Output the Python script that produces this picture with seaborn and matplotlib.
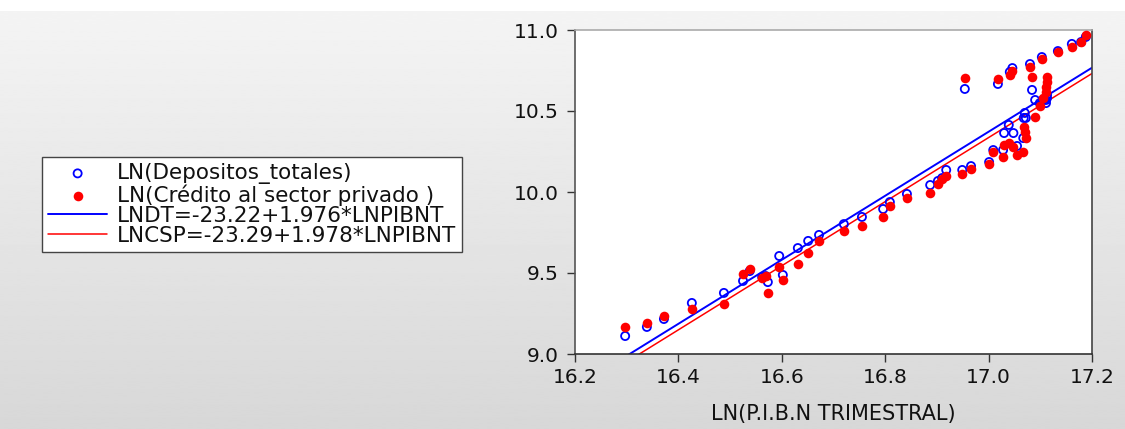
import numpy as np
import pandas as pd
import matplotlib
matplotlib.use("Agg")
import matplotlib.pyplot as plt
import seaborn as sns

# ---------------- data ----------------
pib = [16.297, 16.339, 16.372, 16.426, 16.488, 16.525, 16.538, 16.562, 16.569, 16.573,
       16.595, 16.602, 16.631, 16.651, 16.672, 16.720, 16.755, 16.796, 16.809, 16.842,
       16.887, 16.902, 16.910, 16.918, 16.949, 16.954, 16.966, 17.001, 17.009, 17.018,
       17.028, 17.030, 17.039, 17.041, 17.046, 17.048, 17.055, 17.067, 17.068, 17.070,
       17.072, 17.080, 17.084, 17.090, 17.099, 17.103, 17.105, 17.111, 17.111, 17.113,
       17.113, 17.134, 17.161, 17.179, 17.188]
depositos = [9.111, 9.167, 9.216, 9.315, 9.377, 9.451, 9.512, 9.475, 9.481, 9.444,
             9.605, 9.488, 9.654, 9.698, 9.735, 9.802, 9.846, 9.895, 9.938, 9.988,
             10.043, 10.068, 10.086, 10.136, 10.136, 10.636, 10.160, 10.185, 10.259, 10.667,
             10.259, 10.364, 10.414, 10.741, 10.765, 10.364, 10.284, 10.333, 10.457, 10.488,
             10.457, 10.790, 10.630, 10.568, 10.549, 10.833, 10.568, 10.568, 10.549, 10.580,
             10.599, 10.870, 10.914, 10.926, 10.957]
credito = [9.167, 9.191, 9.235, 9.278, 9.309, 9.494, 9.525, 9.469, 9.481, 9.377,
           9.537, 9.457, 9.556, 9.623, 9.698, 9.759, 9.790, 9.846, 9.914, 9.963,
           9.994, 10.049, 10.080, 10.099, 10.111, 10.704, 10.142, 10.173, 10.247, 10.698,
           10.216, 10.290, 10.302, 10.722, 10.747, 10.278, 10.228, 10.247, 10.401, 10.370,
           10.333, 10.772, 10.710, 10.463, 10.531, 10.821, 10.580, 10.617, 10.648, 10.679,
           10.710, 10.864, 10.895, 10.926, 10.969]

# fitted lines: intercept, slope
ldt_coef = [-23.22, 1.976]
lcsp_coef = [-23.29, 1.978]

series_labels = ["LN(Depositos_totales)",
                 "LN(Crédito al sector privado )",
                 "LNDT=-23.22+1.976*LNPIBNT",
                 "LNCSP=-23.29+1.978*LNPIBNT"]
x_ticks = [16.2, 16.4, 16.6, 16.8, 17.0, 17.2]
y_ticks = [9.0, 9.5, 10.0, 10.5, 11.0]
x_label = "LN(P.I.B.N TRIMESTRAL)"

# ---------------- style ----------------
sns.set_theme(style="white")
plt.rcParams["font.family"] = ["DejaVu Sans"]

W, H = 1125, 429
fig = plt.figure(figsize=(W / 100, H / 100), dpi=100)
fig.patch.set_facecolor("white")

# gray gradient background panel
bg = fig.add_axes([0, 0, 1, 1 - 11 / H], zorder=-10)
grad = np.linspace(0.957, 0.845, 256).reshape(-1, 1)
bg.imshow(grad, aspect="auto", cmap="gray", vmin=0, vmax=1,
          extent=[0, 1, 0, 1], interpolation="bilinear")
bg.axis("off")

ax = fig.add_axes([575 / W, 1 - 354 / H, (1092 - 575) / W, (354 - 30) / H])
ax.set_facecolor("white")

df = pd.DataFrame({"pib": pib, "dep": depositos, "cred": credito})
fit_x = np.array([x_ticks[0], x_ticks[-1]])

sns.lineplot(x=fit_x, y=ldt_coef[0] + ldt_coef[1] * fit_x, color="#0000ff",
             linewidth=1.4, ax=ax, label=series_labels[2], zorder=2)
sns.lineplot(x=fit_x, y=lcsp_coef[0] + lcsp_coef[1] * fit_x, color="#ff0000",
             linewidth=1.1, ax=ax, label=series_labels[3], zorder=2)
sns.scatterplot(data=df, x="pib", y="dep", marker="o", s=34,
                facecolors="none", edgecolors="#0000ff", linewidths=1.3,
                ax=ax, label=series_labels[0], zorder=3)
sns.scatterplot(data=df, x="pib", y="cred", marker="o", s=48,
                color="#ff0000", edgecolor="#ff0000", linewidth=0,
                ax=ax, label=series_labels[1], zorder=4)

handles, labels = ax.get_legend_handles_labels()
if ax.get_legend() is not None:
    ax.get_legend().remove()
hmap = dict(zip(labels, handles))

ax.set_xlim(x_ticks[0], x_ticks[-1])
ax.set_ylim(y_ticks[0], y_ticks[-1])
ax.set_xticks(x_ticks)
ax.set_yticks(y_ticks)
ax.set_xticklabels([f"{v:.1f}" for v in x_ticks])
ax.set_yticklabels([f"{v:.1f}" for v in y_ticks])
ax.set_xlabel(x_label, fontsize=15, color="#111111", labelpad=12)
ax.set_ylabel("")
ax.tick_params(axis="both", which="major", direction="out", length=6, width=1,
               color="#333333", labelsize=14.5, labelcolor="#111111",
               left=True, bottom=True, top=False, right=False)
ax.tick_params(axis="y", pad=6)
ax.tick_params(axis="x", pad=4)
for side, col in [("left", "#555555"), ("bottom", "#333333"),
                  ("right", "#444444"), ("top", "#aaaaaa")]:
    ax.spines[side].set_visible(True)
    ax.spines[side].set_color(col)
    ax.spines[side].set_linewidth(1.2)

leg = fig.legend([hmap[l] for l in series_labels], series_labels,
                 loc="upper left", bbox_to_anchor=(42 / W, 1 - 157 / H),
                 bbox_transform=fig.transFigure, frameon=True, fancybox=False,
                 edgecolor="#444444", facecolor="white", framealpha=1,
                 fontsize=15.5, handlelength=2.75, handletextpad=0.45,
                 labelspacing=0.0, borderpad=0.28, borderaxespad=0,
                 scatterpoints=1)
leg.get_frame().set_linewidth(1.0)
for t in leg.get_texts():
    t.set_color("#111111")

fig.savefig("out.png", dpi=100)
